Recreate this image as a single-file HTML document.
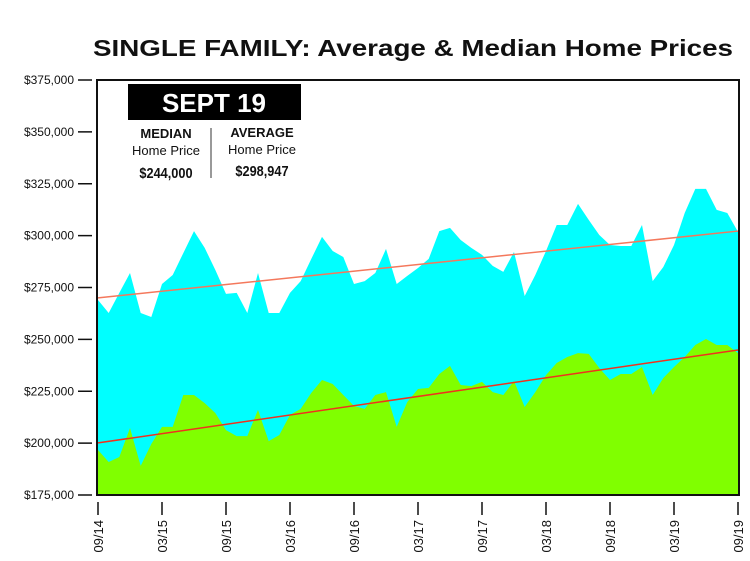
<!DOCTYPE html>
<html><head><meta charset="utf-8">
<style>
body{margin:0;background:#fff;}
svg{display:block;font-family:"Liberation Sans",sans-serif;}
</style></head>
<body>
<svg id="chart" width="750" height="561" viewBox="0 0 750 561">
<text x="93" y="56" font-size="23" font-weight="bold" fill="#111" textLength="640" lengthAdjust="spacingAndGlyphs">SINGLE FAMILY: Average &amp; Median Home Prices</text>
<g id="plot"></g>
<g>
<rect x="128" y="84" width="173" height="36" fill="#000"/>
<text x="214" y="112" text-anchor="middle" font-size="26" font-weight="bold" fill="#fff">SEPT 19</text>
<text x="166" y="138" text-anchor="middle" font-size="13" font-weight="bold" fill="#111">MEDIAN</text>
<text x="166" y="155" text-anchor="middle" font-size="13" fill="#111">Home Price</text>
<text x="166" y="178" text-anchor="middle" font-size="15" font-weight="bold" fill="#111" transform="translate(166 0) scale(0.85 1) translate(-166 0)">$244,000</text>
<line x1="211" y1="128" x2="211" y2="178" stroke="#333" stroke-width="1"/>
<text x="262" y="137" text-anchor="middle" font-size="13" font-weight="bold" fill="#111">AVERAGE</text>
<text x="262" y="154" text-anchor="middle" font-size="13" fill="#111">Home Price</text>
<text x="262" y="176" text-anchor="middle" font-size="15" font-weight="bold" fill="#111" transform="translate(262 0) scale(0.85 1) translate(-262 0)">$298,947</text>
</g>
</svg>
<script>
const averagePrices=[269000,262700,272400,282000,262700,260800,276700,281000,291600,302200,294100,283500,271900,272400,262700,282000,262700,262700,272400,278100,288800,299400,292600,289700,276700,278100,282000,293600,276700,280600,284400,288800,302200,303700,297900,294100,290700,285400,282500,292100,270900,281000,292600,305100,305100,315300,307600,300300,295500,295000,295000,305100,278100,284900,295500,310900,322500,322500,312400,310900,301800];
const medianPrices=[196700,190900,193300,207300,189000,199600,207800,207800,223200,223200,219300,214500,206300,203400,203400,216000,201000,203900,213600,216500,224200,230400,228500,223200,217900,216500,223200,224600,207800,219800,226100,226600,233300,237200,228000,227500,229500,224600,223200,229900,217400,224600,232800,238600,241500,243400,243000,236200,230400,233300,233300,236700,223200,231400,236700,241500,247300,250200,247300,247300,243400];
const averageTrend=[270000,302200];
const medianTrend=[200100,244900];
const yTicks=[175000,200000,225000,250000,275000,300000,325000,350000,375000];
const xTickLabels=["09/14","03/15","09/15","03/16","09/16","03/17","09/17","03/18","09/18","03/19","09/19"];

const NS="http://www.w3.org/2000/svg";
const L=98,R=738,T=80,B=495;
const n=averagePrices.length;
function xs(i){return L+(R-L)*i/(n-1);}
function ys(v){return B-(v-175000)/200000*(B-T);}
const g=document.getElementById('plot');
function mk(tag,attrs){const e=document.createElementNS(NS,tag);for(const k in attrs)e.setAttribute(k,attrs[k]);g.appendChild(e);return e;}
function area(vals){let d='M'+xs(0)+','+B;vals.forEach((v,i)=>{d+=' L'+xs(i).toFixed(1)+','+ys(v).toFixed(1);});d+=' L'+xs(n-1)+','+B+' Z';return d;}

const a1=mk('path',{d:area(averagePrices),fill:'#00ffff'});


const a2=mk('path',{d:area(medianPrices),fill:'#80ff00'});


const t1=mk('line',{x1:xs(0),y1:ys(averageTrend[0]),x2:xs(n-1),y2:ys(averageTrend[1]),stroke:'#f4785c','stroke-width':1.5});


const t2=mk('line',{x1:xs(0),y1:ys(medianTrend[0]),x2:xs(n-1),y2:ys(medianTrend[1]),stroke:'#f0321e','stroke-width':1.5});


const fr=mk('rect',{x:L-1,y:T,width:R-L+2,height:B-T,fill:'none',stroke:'#111','stroke-width':2});



yTicks.forEach(v=>{
  const y=ys(v);
  const tk=mk('line',{x1:78,y1:y,x2:92,y2:y,stroke:'#111','stroke-width':1.5});
  
  
  const tx=mk('text',{x:74,y:y+4,'text-anchor':'end','font-size':12,fill:'#111'});
  tx.textContent='$'+v.toLocaleString('en-US');
  
  
});
xTickLabels.forEach((lab,k)=>{
  const x=xs(k*6);
  const tk=mk('line',{x1:x,y1:502,x2:x,y2:515,stroke:'#111','stroke-width':1.5});
  
  
  const tx=mk('text',{x:0,y:0,'text-anchor':'end','font-size':13,fill:'#111',transform:'translate('+(x+5)+',520) rotate(-90)'});
  tx.textContent=lab;
  
  
});
</script>
</body></html>
